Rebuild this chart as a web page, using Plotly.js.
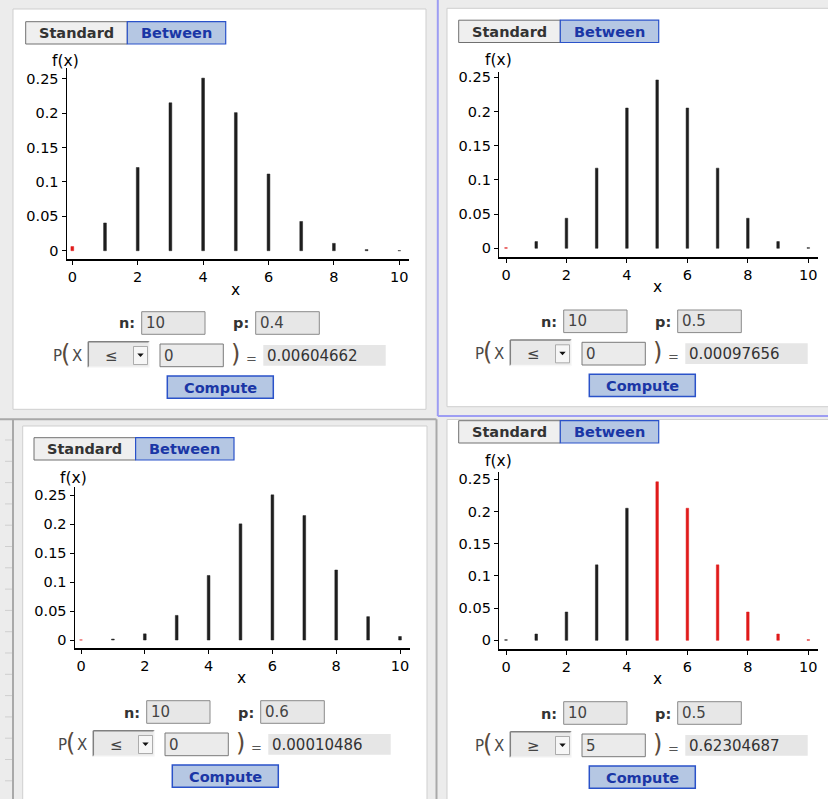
<!DOCTYPE html>
<html>
<head>
<meta charset="utf-8">
<script src="https://cdn.plot.ly/plotly-3.0.1.min.js"></script>
<style>html,body{margin:0;padding:0;background:#ececec;}#plot{width:828px;height:799px;}</style>
</head>
<body>
<div id="plot"></div>
<script>
// ---------- data ----------
const xValues = [0, 1, 2, 3, 4, 5, 6, 7, 8, 9, 10];
const fP04 = [0.00605, 0.04031, 0.12093, 0.21499, 0.25082, 0.20066, 0.11148, 0.04247, 0.01062, 0.00157, 0.00010];
const fP05 = [0.00098, 0.00977, 0.04395, 0.11719, 0.20508, 0.24609, 0.20508, 0.11719, 0.04395, 0.00977, 0.00098];
const fP06 = [0.00010, 0.00157, 0.01062, 0.04247, 0.11148, 0.20066, 0.25082, 0.21499, 0.12093, 0.04031, 0.00605];
const fP05b = [0.00098, 0.00977, 0.04395, 0.11719, 0.20508, 0.24609, 0.20508, 0.11719, 0.04395, 0.00977, 0.00098];
const nLabels = ['10', '10', '10', '10'];
const pLabels = ['0.4', '0.5', '0.6', '0.5'];
const opLabels = ['≤', '≤', '≤', '≥'];
const boundLabels = ['0', '0', '0', '5'];
const resultLabels = ['0.00604662', '0.00097656', '0.00010486', '0.62304687'];
const yTickVals = [0, 0.05, 0.1, 0.15, 0.2, 0.25];
const yTickText = ['0', '0.05', '0.1', '0.15', '0.2', '0.25'];
const xTickVals = [0, 2, 4, 6, 8, 10];
const xTickText = ['0', '2', '4', '6', '8', '10'];
const series = [fP04, fP05, fP06, fP05b];

// ---------- layout geometry (pixels) ----------
const W = 828, H = 799;
const FONT = 'DejaVu Sans, Verdana, sans-serif';
const geo = [
  {yl: 67, xr: 409, x0: 72.3, x10: 399.3, yb: 259, yt: 68, y0: 250.7, y25: 78.7},
  {yl: 499.3, xr: 817.7, x0: 506, x10: 808.3, yb: 257.3, yt: 71.7, y0: 248.3, y25: 77.3},
  {yl: 75, xr: 410, x0: 81, x10: 400, yb: 648, yt: 487, y0: 640, y25: 495.3},
  {yl: 499.3, xr: 817.7, x0: 506, x10: 808.3, yb: 649, yt: 471.7, y0: 640.3, y25: 479.3}
];
const fxPos = [[65, 61], [498.3, 60], [73.3, 478.3], [498.3, 460.7]];
const xtPos = [[235.7, 290], [657.7, 287.3], [241, 678.3], [657.7, 679.3]];
const btnOff = [[0, 0], [433, -1.5], [8.3, 416], [433, 399]];
const ctlOff = [[0, 0], [422, -1.7], [5, 389], [422, 390]];

const px = x => x / W;
const py = y => 1 - y / H;

const shapes = [];
const annotations = [];
function R(x0, y0, x1, y1, fill, line, lw, layer) {
  shapes.push({type: 'rect', xref: 'paper', yref: 'paper', x0: px(x0), x1: px(x1), y0: py(y1), y1: py(y0),
    fillcolor: fill, line: {color: line || 'rgba(0,0,0,0)', width: lw === undefined ? 1 : lw}, layer: layer || 'above'});
}
function L(x0, y0, x1, y1, color, w, layer) {
  shapes.push({type: 'line', xref: 'paper', yref: 'paper', x0: px(x0), x1: px(x1), y0: py(y0), y1: py(y1),
    line: {color: color, width: w}, layer: layer || 'above'});
}
function P(pts, fill) {
  let d = pts.map((p, i) => (i ? 'L' : 'M') + px(p[0]).toFixed(5) + ',' + py(p[1]).toFixed(5)).join(' ') + ' Z';
  shapes.push({type: 'path', xref: 'paper', yref: 'paper', path: d, fillcolor: fill, line: {width: 0}});
}
function T(x, y, text, size, color, xanchor) {
  annotations.push({xref: 'paper', yref: 'paper', x: px(x), y: py(y), text: text, showarrow: false,
    xanchor: xanchor || 'center', yanchor: 'middle', borderpad: 0,
    font: {family: FONT, size: size, color: color}});
}

// ---------- window chrome ----------
R(13, 9, 426, 409.3, '#ffffff', '#cfcfcf', 1, 'below');
R(447, 8.3, 832, 406.7, '#ffffff', '#cfcfcf', 1, 'below');
R(22.7, 426, 427, 803, '#ffffff', '#cfcfcf', 1, 'below');
R(447, 419.5, 832, 803, '#ffffff', '#cfcfcf', 1, 'below');
L(0, 419.3, 436.5, 419.3, '#a9a9a9', 2, 'below');
L(436.5, 419.3, 436.5, 799, '#a9a9a9', 2, 'below');
L(13, 419.3, 13, 799, '#a9a9a9', 2, 'below');
L(437.8, 0, 437.8, 416, '#9d9df3', 2, 'below');
L(437.8, 416, 828, 416, '#9d9df3', 2, 'below');
for (let yy = 440; yy < 799; yy += 21.3) L(5, yy, 12, yy, '#cfcfcf', 1, 'below');

// ---------- controls for each panel ----------
for (let k = 0; k < 4; k++) {
  const [bx, by] = btnOff[k];
  const [cx, cy] = ctlOff[k];
  // Standard / Between buttons
  R(25.7 + bx, 21.7 + by, 127.3 + bx, 44 + by, '#efefef', '#707070', 1);
  R(127.3 + bx, 21.7 + by, 225.7 + bx, 44 + by, '#b5c7e3', '#2a52c9', 1.2);
  T(76.5 + bx, 33 + by, '<b>Standard</b>', 14.5, '#333333');
  T(176.5 + bx, 33 + by, '<b>Between</b>', 14.5, '#1a36a6');
  // n and p fields
  T(136 + cx, 323.5 + cy, '<b>n:</b>', 14.5, '#333333', 'right');
  R(141.7 + cx, 311.7 + cy, 205 + cx, 334.3 + cy, '#e7e7e7', '#8a8a8a', 1);
  T(145 + cx, 323 + cy, nLabels[k], 15, '#444444', 'left');
  T(250 + cx, 323.5 + cy, '<b>p:</b>', 14.5, '#333333', 'right');
  R(255.7 + cx, 311.7 + cy, 319.3 + cx, 334.3 + cy, '#e7e7e7', '#8a8a8a', 1);
  T(259 + cx, 323 + cy, pLabels[k], 15, '#444444', 'left');
  // P( X  op  bound ) = result
  T(57.5 + cx, 356 + cy, 'P', 15, '#4a4a4a');
  T(65.5 + cx, 354 + cy, '(', 24, '#5a4a3c');
  T(76.5 + cx, 356 + cy, 'X', 15, '#4a4a4a');
  R(88.3 + cx, 341.7 + cy, 149.3 + cx, 367.3 + cy, '#e9e9e9', null, 0);
  L(88.3 + cx, 341.7 + cy, 149.3 + cx, 341.7 + cy, '#808080', 1.5);
  L(88.3 + cx, 341.7 + cy, 88.3 + cx, 367.3 + cy, '#808080', 1.5);
  L(88.3 + cx, 367.3 + cy, 149.3 + cx, 367.3 + cy, '#f8f8f8', 1.5);
  L(149.3 + cx, 341.7 + cy, 149.3 + cx, 367.3 + cy, '#f8f8f8', 1.5);
  R(133.5 + cx, 346.5 + cy, 147.5 + cx, 364.5 + cy, '#f6f6f6', '#9a9a9a', 0.8);
  P([[137.3 + cx, 353.5 + cy], [143.7 + cx, 353.5 + cy], [140.5 + cx, 357 + cy]], '#111111');
  T(111.7 + cx, 355.5 + cy, opLabels[k], 15, '#444444');
  R(160 + cx, 344 + cy, 223.3 + cx, 366.7 + cy, '#ebebeb', '#7a7a7a', 1);
  T(163 + cx, 355.5 + cy, boundLabels[k], 15, '#444444', 'left');
  T(235 + cx, 354 + cy, ')', 24, '#5a4a3c');
  T(251 + cx, 358 + cy, '=', 13, '#555555');
  R(263.3 + cx, 345 + cy, 385.7 + cx, 365.7 + cy, '#e6e6e6', null, 0);
  T(266 + cx, 355.5 + cy, resultLabels[k], 15, '#333333', 'left');
  // Compute button
  R(167.3 + cx, 376 + cy, 273.3 + cx, 398.3 + cy, '#b5c7e3', '#2a52c9', 1.5);
  T(220.3 + cx, 387.5 + cy, '<b>Compute</b>', 14.5, '#1a36a6');
}

// ---------- plots ----------
const highlight = [
  x => x <= Number(boundLabels[0]),
  x => x <= Number(boundLabels[1]),
  x => x <= Number(boundLabels[2]),
  x => x >= Number(boundLabels[3])
];
const traces = [];
const layout = {
  width: W, height: H,
  margin: {l: 0, r: 0, t: 0, b: 0},
  paper_bgcolor: '#ececec',
  plot_bgcolor: 'rgba(0,0,0,0)',
  showlegend: false,
  shapes: shapes,
  annotations: annotations,
  font: {family: FONT, size: 14.5, color: '#000000'}
};
for (let k = 0; k < 4; k++) {
  const g = geo[k];
  const sx = (g.x10 - g.x0) / 10;
  const sy = (g.y0 - g.y25) / 0.25;
  const suf = k === 0 ? '' : String(k + 1);
  const colors = xValues.map(x => highlight[k](x) ? '#e01a1a' : '#1e1e1e');
  traces.push({
    type: 'bar', x: xValues, y: series[k], width: 0.085,
    marker: {color: colors, line: {color: colors, width: 0.5}},
    xaxis: 'x' + suf, yaxis: 'y' + suf, hoverinfo: 'skip'
  });
  layout['xaxis' + suf] = {
    domain: [px(g.yl), px(g.xr)],
    range: [(g.yl - g.x0) / sx, (g.xr - g.x0) / sx],
    anchor: 'y' + suf,
    showgrid: false, zeroline: false, showline: true, linecolor: '#000000', linewidth: 1.5,
    ticks: 'outside', ticklen: 4, tickwidth: 1, tickcolor: '#000000',
    tickmode: 'array', tickvals: xTickVals, ticktext: xTickText,
    tickfont: {family: FONT, size: 14.5, color: '#000000'}, fixedrange: true
  };
  layout['yaxis' + suf] = {
    domain: [py(g.yb), py(g.yt)],
    range: [(g.y0 - g.yb) / sy, (g.y0 - g.yt) / sy],
    anchor: 'x' + suf,
    showgrid: false, zeroline: false, showline: true, linecolor: '#000000', linewidth: 1.5,
    ticks: 'outside', ticklen: 4, tickwidth: 1, tickcolor: '#000000',
    tickmode: 'array', tickvals: yTickVals, ticktext: yTickText,
    tickfont: {family: FONT, size: 14.5, color: '#000000'}, fixedrange: true
  };
  T(fxPos[k][0], fxPos[k][1], 'f(x)', 15.5, '#000000');
  T(xtPos[k][0], xtPos[k][1], 'x', 15.5, '#000000');
}

Plotly.newPlot('plot', traces, layout, {displayModeBar: false, staticPlot: true});
</script>
</body>
</html>
